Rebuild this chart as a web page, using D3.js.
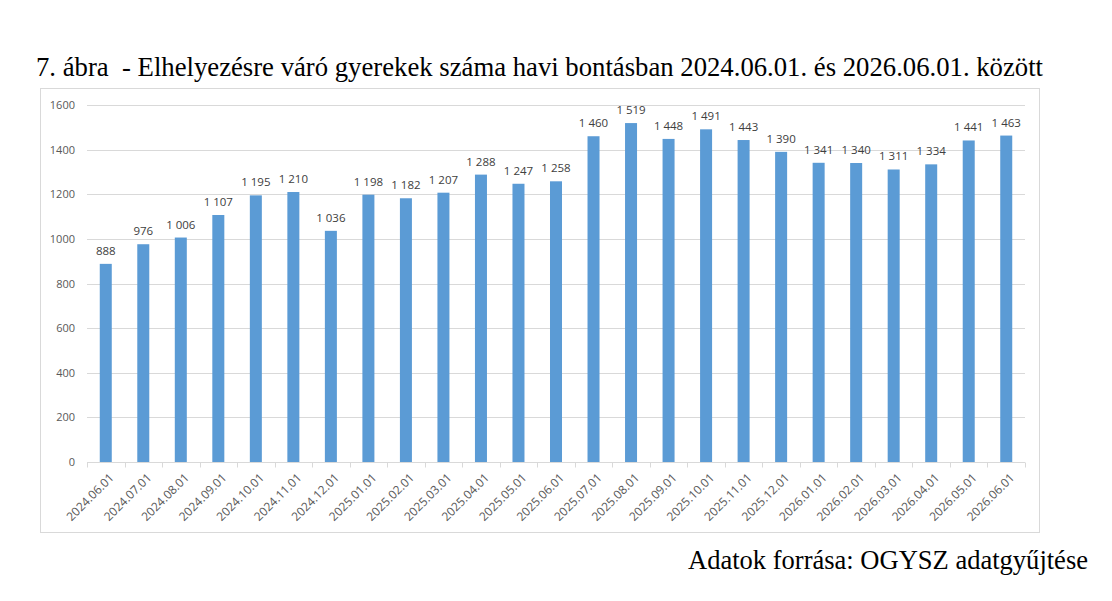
<!DOCTYPE html>
<html>
<head>
<meta charset="utf-8">
<script src="https://cdn.jsdelivr.net/npm/d3@7"></script>
<style>
  body { margin: 0; background: #fff; }
  svg { display: block; }
</style>
</head>
<body>
<div id="chart"></div>
<script>
// Data
const months = [
  "2024.06.01", "2024.07.01", "2024.08.01", "2024.09.01", "2024.10.01",
  "2024.11.01", "2024.12.01", "2025.01.01", "2025.02.01", "2025.03.01",
  "2025.04.01", "2025.05.01", "2025.06.01", "2025.07.01", "2025.08.01",
  "2025.09.01", "2025.10.01", "2025.11.01", "2025.12.01", "2026.01.01",
  "2026.02.01", "2026.03.01", "2026.04.01", "2026.05.01", "2026.06.01"
];
const waiting = [
  888, 976, 1006, 1107, 1195, 1210, 1036, 1198, 1182, 1207,
  1288, 1247, 1258, 1460, 1519, 1448, 1491, 1443, 1390, 1341,
  1340, 1311, 1334, 1441, 1463
];
const yTicks = [0, 200, 400, 600, 800, 1000, 1200, 1400, 1600];

const titleText = "7. ábra  - Elhelyezésre váró gyerekek száma havi bontásban 2024.06.01. és 2026.06.01. között";
const sourceText = "Adatok forrása: OGYSZ adatgyűjtése";

const W = 1112, H = 601;
const margin = { top: 105, right: 87, bottom: 139, left: 87 };
const width = W - margin.left - margin.right;
const height = H - margin.top - margin.bottom;

const huLocale = d3.formatLocale({ decimal: ",", thousands: "\u00a0", grouping: [3], currency: ["", " Ft"] });
const fmt = huLocale.format(",d");

const svg = d3.select("#chart").append("svg")
  .attr("width", W)
  .attr("height", H);

// Title
svg.append("text")
  .attr("x", 36)
  .attr("y", 76)
  .attr("xml:space", "preserve")
  .style("white-space", "pre")
  .attr("font-family", "Liberation Serif, Times New Roman, serif")
  .attr("font-size", 26.5)
  .attr("textLength", 1007)
  .attr("lengthAdjust", "spacingAndGlyphs")
  .attr("fill", "#000")
  .text(titleText);

// chart frame
svg.append("rect")
  .attr("x", 40.5)
  .attr("y", 88.5)
  .attr("width", 999)
  .attr("height", 444)
  .attr("fill", "none")
  .attr("stroke", "#d9d9d9");

const g = svg.append("g")
  .attr("transform", `translate(${margin.left},${margin.top})`);

const x = d3.scaleBand()
  .domain(months)
  .range([0, width])
  .paddingInner(0.68)
  .paddingOuter(0.34);

const y = d3.scaleLinear().domain([0, 1600]).range([height, 0]);

// gridlines
g.append("g")
  .selectAll("line")
  .data(yTicks.filter(d => d > 0))
  .join("line")
  .attr("x1", 0)
  .attr("x2", width)
  .attr("y1", d => Math.round(y(d)) + 0.5)
  .attr("y2", d => Math.round(y(d)) + 0.5)
  .attr("stroke", "#d9d9d9");

// y axis labels
const yAxis = g.append("g")
  .call(d3.axisLeft(y).tickValues(yTicks).tickFormat(d3.format("d")).tickSize(0).tickPadding(12));
yAxis.select(".domain").remove();
yAxis.selectAll("text")
  .attr("font-family", "Open Sans, Liberation Sans, sans-serif")
  .attr("font-size", 11)
  .attr("fill", "#595959");

// bars
g.selectAll(".bar")
  .data(waiting)
  .join("rect")
  .attr("class", "bar")
  .attr("x", (d, i) => x(months[i]))
  .attr("y", d => y(d))
  .attr("width", x.bandwidth())
  .attr("height", d => y(0) - y(d))
  .attr("fill", "#5b9bd5");

// value labels
g.selectAll(".val")
  .data(waiting)
  .join("text")
  .attr("class", "val")
  .attr("x", (d, i) => x(months[i]) + x.bandwidth() / 2)
  .attr("y", d => y(d) - 9)
  .attr("text-anchor", "middle")
  .attr("font-family", "Open Sans, Liberation Sans, sans-serif")
  .attr("font-size", 11.5)
  .attr("fill", "#404040")
  .text(d => fmt(d));

// x axis
const step = x.step();
const xAxis = g.append("g")
  .attr("transform", `translate(0,${Math.round(height) + 0.5})`);
xAxis.append("line")
  .attr("x1", 0).attr("x2", width)
  .attr("stroke", "#d9d9d9");
xAxis.selectAll(".tick")
  .data(d3.range(months.length + 1))
  .join("line")
  .attr("class", "tick")
  .attr("x1", i => Math.round(i * step) + 0.5)
  .attr("x2", i => Math.round(i * step) + 0.5)
  .attr("y1", 0).attr("y2", 5)
  .attr("stroke", "#d9d9d9");
xAxis.selectAll(".xl")
  .data(months)
  .join("text")
  .attr("class", "xl")
  .attr("transform", d => `translate(${x(d) + x.bandwidth() / 2 + 6},${13}) rotate(-45)`)
  .attr("text-anchor", "end")
  .attr("dy", "0.35em")
  .attr("font-family", "Open Sans, Liberation Sans, sans-serif")
  .attr("font-size", 12)
  .attr("fill", "#595959")
  .text(d => d);

// source
svg.append("text")
  .attr("x", 688)
  .attr("y", 569)
  .attr("font-family", "Liberation Serif, Times New Roman, serif")
  .attr("font-size", 26.5)
  .attr("textLength", 400)
  .attr("lengthAdjust", "spacingAndGlyphs")
  .attr("fill", "#000")
  .text(sourceText);
</script>
</body>
</html>
